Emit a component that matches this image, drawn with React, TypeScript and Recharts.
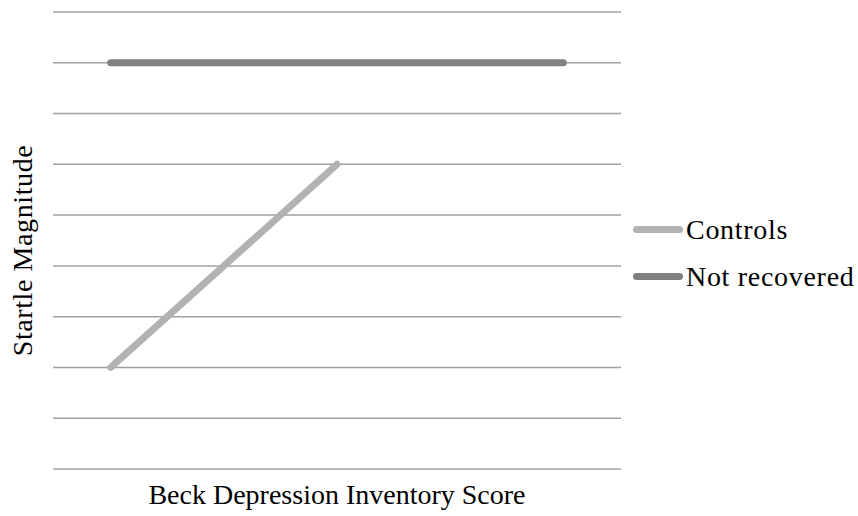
import React from 'react';
import { LineChart, Line, XAxis, YAxis, CartesianGrid } from 'recharts';

// x positions are just the score groups, y values are on a 0-9 gridline scale
const controlsX = [0, 1];
const controlsY = [2, 6];
const notRecoveredX = [0, 1, 2];
const notRecoveredY = [8, 8, 8];
const yTicks = [0, 1, 2, 3, 4, 5, 6, 7, 8, 9];

const controlsData = controlsX.map((x, i) => ({ x, value: controlsY[i] }));
const notRecoveredData = notRecoveredX.map((x, i) => ({ x, value: notRecoveredY[i] }));

const series = [
  { name: 'Controls', color: '#b2b2b2' },
  { name: 'Not recovered', color: '#808080' },
];

const FONT = '"Liberation Serif", "Times New Roman", serif';

const YTitle = (props: any) => {
  const vb = props.viewBox || {};
  const cx = vb.x - 30;
  const cy = vb.y + vb.height / 2 + 10;
  return (
    <text
      x={cx}
      y={cy}
      transform={`rotate(-90 ${cx} ${cy})`}
      textAnchor="middle"
      dominantBaseline="central"
      fontFamily={FONT}
      fontSize={28}
      letterSpacing={0.6}
      fill="#000"
    >
      Startle Magnitude
    </text>
  );
};

const NoTick = () => <g />;

export default function App() {
  return (
    <div style={{ position: 'absolute', left: 0, top: 0, width: 858, height: 516, background: '#fff' }}>
      <LineChart width={858} height={516} margin={{ top: 12, right: 237, bottom: 46, left: 52 }}>
        <CartesianGrid vertical={false} stroke="#a0a0a0" strokeWidth={1.5} />
        <XAxis
          type="number"
          dataKey="x"
          domain={[-0.255, 2.255]}
          allowDataOverflow
          height={1}
          tick={NoTick}
          tickLine={false}
          axisLine={false}
          label={{
            value: 'Beck Depression Inventory Score',
            position: 'bottom',
            offset: 14,
            style: { fontFamily: FONT, fontSize: 28, fill: '#000' },
          }}
        />
        <YAxis
          type="number"
          domain={[0, 9]}
          ticks={yTicks}
          interval={0}
          width={1}
          tick={NoTick}
          tickLine={false}
          axisLine={false}
          label={{ content: YTitle }}
        />
        <Line
          data={controlsData}
          dataKey="value"
          name="Controls"
          stroke={series[0].color}
          strokeWidth={7}
          strokeLinecap="round"
          dot={false}
          activeDot={false}
          isAnimationActive={false}
        />
        <Line
          data={notRecoveredData}
          dataKey="value"
          name="Not recovered"
          stroke={series[1].color}
          strokeWidth={7}
          strokeLinecap="round"
          dot={false}
          activeDot={false}
          isAnimationActive={false}
        />
      </LineChart>
      <div
        style={{
          position: 'absolute',
          left: 633,
          top: 206,
          fontFamily: FONT,
          fontSize: 28,
          letterSpacing: 0.7,
          color: '#000',
        }}
      >
        {series.map((s) => (
          <div key={s.name} style={{ display: 'flex', alignItems: 'center', height: 47 }}>
            <span
              style={{
                display: 'inline-block',
                width: 50,
                height: 7,
                borderRadius: 4,
                background: s.color,
                marginRight: 3,
              }}
            />
            <span>{s.name}</span>
          </div>
        ))}
      </div>
    </div>
  );
}
